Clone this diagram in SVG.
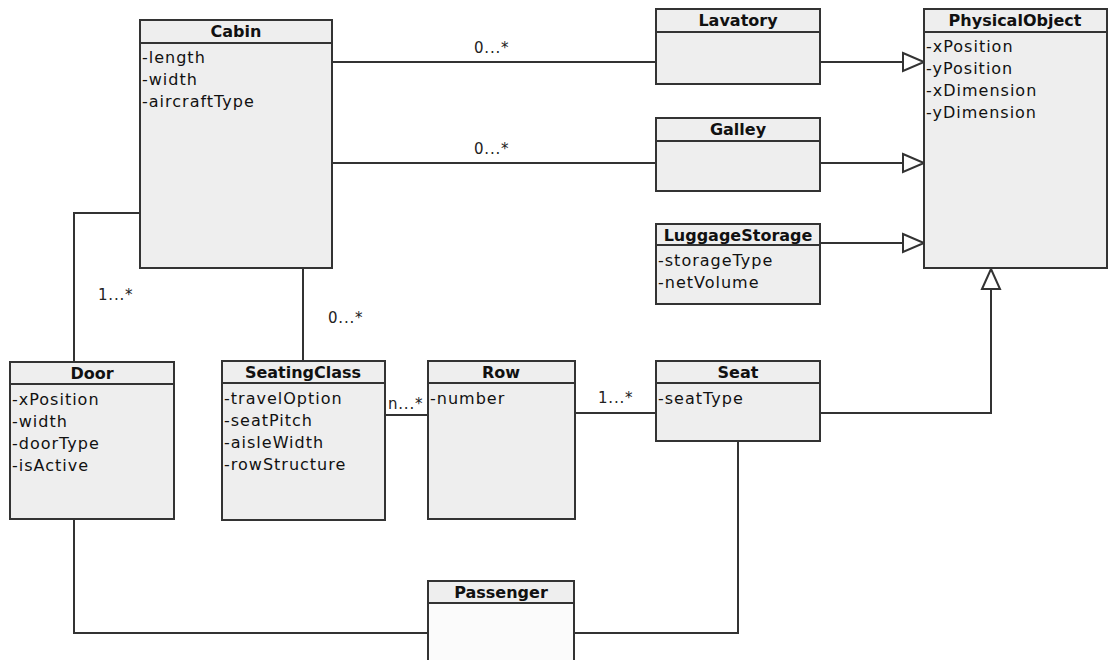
<svg xmlns="http://www.w3.org/2000/svg" width="1113" height="660" viewBox="0 0 1113 660">
  <style>
    .box { fill: #eeeeee; stroke: #333333; stroke-width: 2; }
    .hdr { fill: #eeeeee; stroke: none; }
    .sep { stroke: #333333; stroke-width: 2; }
    .title { font-family: "DejaVu Sans", sans-serif; font-weight: bold; font-size: 16px; fill: #111111; text-anchor: middle; }
    .attr { font-family: "DejaVu Sans", sans-serif; font-size: 16px; fill: #111111; letter-spacing: 1px; }
    .mult { font-family: "DejaVu Sans", sans-serif; font-size: 15px; fill: #222222; letter-spacing: 0.8px; }
    .edge { fill: none; stroke: #333333; stroke-width: 2; }
    .gen { fill: #ffffff; stroke: #333333; stroke-width: 2; }
  </style>

  <!-- associations and generalizations -->
  <g id="connectors">
    <path class="edge" d="M332,62 H656"/>
    <path class="edge" d="M332,163 H656"/>
    <path class="edge" d="M140,213 H74 V362"/>
    <path class="edge" d="M303,268 V361"/>
    <path class="edge" d="M385,415 H428"/>
    <path class="edge" d="M575,413 H656"/>
    <path class="edge" d="M74,519 V633 H428"/>
    <path class="edge" d="M738,441 V633 H574"/>
    <path class="edge" d="M820,62 H903"/>
    <path class="edge" d="M820,163 H903"/>
    <path class="edge" d="M820,243 H903"/>
    <path class="edge" d="M820,413 H991 V289"/>
    <polygon class="gen" points="903,53 924,62 903,71"/>
    <polygon class="gen" points="903,154 924,163 903,172"/>
    <polygon class="gen" points="903,234 924,243 903,252"/>
    <polygon class="gen" points="982,289 991,269 1000,289"/>
    <text class="mult" x="474" y="53">0...*</text>
    <text class="mult" x="474" y="154">0...*</text>
    <text class="mult" x="98" y="300">1...*</text>
    <text class="mult" x="328" y="323">0...*</text>
    <text class="mult" x="388" y="409">n...*</text>
    <text class="mult" x="598" y="403">1...*</text>
  </g>

  <g id="cabin">
    <rect class="box" x="140" y="20" width="192" height="248"/>
    <line class="sep" x1="140" y1="43" x2="332" y2="43"/>
    <text class="title" x="236" y="37">Cabin</text>
    <text class="attr" x="142" y="63">-length</text>
    <text class="attr" x="142" y="85">-width</text>
    <text class="attr" x="142" y="107">-aircraftType</text>
  </g>

  <g id="lavatory">
    <rect class="box" x="656" y="9" width="164" height="75"/>
    <line class="sep" x1="656" y1="32" x2="820" y2="32"/>
    <text class="title" x="738" y="26">Lavatory</text>
  </g>

  <g id="galley">
    <rect class="box" x="656" y="118" width="164" height="73"/>
    <line class="sep" x1="656" y1="141" x2="820" y2="141"/>
    <text class="title" x="738" y="135">Galley</text>
  </g>

  <g id="luggage-storage">
    <rect class="box" x="656" y="224" width="164" height="80"/>
    <line class="sep" x1="656" y1="245" x2="820" y2="245"/>
    <text class="title" x="738" y="241">LuggageStorage</text>
    <text class="attr" x="658" y="266">-storageType</text>
    <text class="attr" x="658" y="288">-netVolume</text>
  </g>

  <g id="physical-object">
    <rect class="box" x="924" y="9" width="183" height="259"/>
    <line class="sep" x1="924" y1="32" x2="1107" y2="32"/>
    <text class="title" x="1015" y="26">PhysicalObject</text>
    <text class="attr" x="926" y="52">-xPosition</text>
    <text class="attr" x="926" y="74">-yPosition</text>
    <text class="attr" x="926" y="96">-xDimension</text>
    <text class="attr" x="926" y="118">-yDimension</text>
  </g>

  <g id="door">
    <rect class="box" x="10" y="362" width="164" height="157"/>
    <line class="sep" x1="10" y1="384" x2="174" y2="384"/>
    <text class="title" x="92" y="379">Door</text>
    <text class="attr" x="12" y="405">-xPosition</text>
    <text class="attr" x="12" y="427">-width</text>
    <text class="attr" x="12" y="449">-doorType</text>
    <text class="attr" x="12" y="471">-isActive</text>
  </g>

  <g id="seating-class">
    <rect class="box" x="222" y="361" width="163" height="159"/>
    <line class="sep" x1="222" y1="383" x2="385" y2="383"/>
    <text class="title" x="303" y="378">SeatingClass</text>
    <text class="attr" x="224" y="404">-travelOption</text>
    <text class="attr" x="224" y="426">-seatPitch</text>
    <text class="attr" x="224" y="448">-aisleWidth</text>
    <text class="attr" x="224" y="470">-rowStructure</text>
  </g>

  <g id="row">
    <rect class="box" x="428" y="361" width="147" height="158"/>
    <line class="sep" x1="428" y1="383" x2="575" y2="383"/>
    <text class="title" x="501" y="378">Row</text>
    <text class="attr" x="430" y="404">-number</text>
  </g>

  <g id="seat">
    <rect class="box" x="656" y="361" width="164" height="80"/>
    <line class="sep" x1="656" y1="383" x2="820" y2="383"/>
    <text class="title" x="738" y="378">Seat</text>
    <text class="attr" x="658" y="404">-seatType</text>
  </g>

  <g id="passenger">
    <rect class="box" x="428" y="581" width="146" height="90" style="fill:#fbfbfb"/>
    <rect class="hdr" x="429" y="582" width="144" height="21"/>
    <line class="sep" x1="428" y1="603" x2="574" y2="603"/>
    <text class="title" x="501" y="598">Passenger</text>
  </g>
</svg>
